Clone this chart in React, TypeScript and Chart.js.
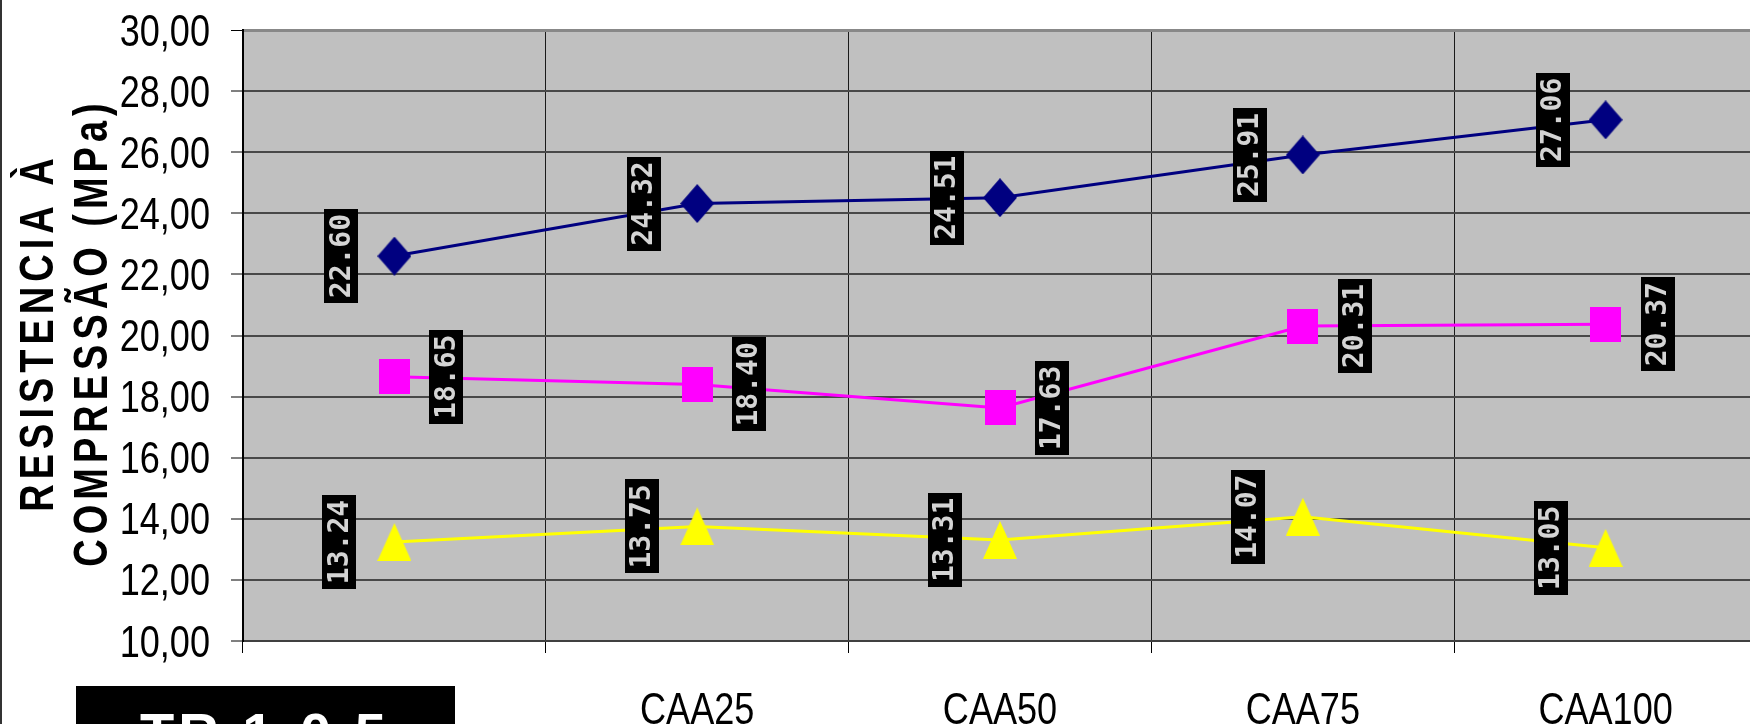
import React, { useEffect, useRef } from 'react';
import { Chart, registerables } from 'chart.js';

Chart.register(...registerables);

// ---- data ----
const categories: string[] = ['', 'CAA25', 'CAA50', 'CAA75', 'CAA100'];
const seriesTopValues: number[] = [22.6, 24.32, 24.51, 25.91, 27.06];
const seriesMidValues: number[] = [18.65, 18.4, 17.63, 20.31, 20.37];
const seriesLowValues: number[] = [13.24, 13.75, 13.31, 14.07, 13.05];
const seriesNames: string[] = ['Série 1', 'Série 2', 'Série 3'];
const yMin = 10;
const yMax = 30;
const yStep = 2;
const yAxisTitleLines: string[] = ['RESISTENCIA À', 'COMPRESSÃO (MPa)'];
const boxCaption = 'TR 1:0,5';

// ---- styles ----
const W = 1772;
const H = 724;
const PLOT_LEFT = 243;
const PLOT_TOP = 30;
const PLOT_BOTTOM = 641;
const labelOffsets = [-53, 52, -55];
const NARROW = 0.82;

const fmtTick = (v: number) => Number(v).toFixed(2).replace('.', ',');

function makeMarker(kind: string, w: number, h: number, color: string) {
  const c = document.createElement('canvas');
  c.width = w;
  c.height = h;
  const ctx = c.getContext('2d')!;
  ctx.fillStyle = color;
  ctx.beginPath();
  if (kind === 'diamond') {
    ctx.moveTo(w / 2, 0);
    ctx.lineTo(w, h / 2);
    ctx.lineTo(w / 2, h);
    ctx.lineTo(0, h / 2);
  } else if (kind === 'square') {
    ctx.rect(0, 0, w, h);
  } else {
    ctx.moveTo(w / 2, 0);
    ctx.lineTo(w, h);
    ctx.lineTo(0, h);
  }
  ctx.closePath();
  ctx.fill();
  return c;
}

function narrowText(ctx: CanvasRenderingContext2D, text: string, x: number, y: number, align: CanvasTextAlign) {
  ctx.save();
  ctx.translate(x, y);
  ctx.scale(NARROW, 1);
  ctx.textAlign = align;
  ctx.textBaseline = 'alphabetic';
  ctx.fillText(text, 0, 0);
  ctx.restore();
}

const decorPlugin = {
  id: 'decor',
  beforeDraw(chart: any) {
    const { ctx, chartArea } = chart;
    ctx.save();
    ctx.fillStyle = '#ffffff';
    ctx.fillRect(0, 0, chart.width, chart.height);
    ctx.fillStyle = '#c0c0c0';
    ctx.fillRect(chartArea.left, chartArea.top, chartArea.right - chartArea.left, chartArea.bottom - chartArea.top);
    ctx.restore();
  },
  afterDraw(chart: any) {
    const { ctx } = chart;
    ctx.save();
    // tick labels (Arial Narrow look), positioned by the chart's own scales
    ctx.fillStyle = '#000000';
    ctx.font = '44px "Liberation Sans", Arial, sans-serif';
    const ys = chart.scales.y;
    ys.ticks.forEach((t: any, i: number) => {
      const y = ys.getPixelForTick(i);
      narrowText(ctx, fmtTick(t.value), 210, y + 15.5, 'right');
    });
    const xs = chart.scales.x;
    xs.ticks.forEach((t: any, i: number) => {
      const x = xs.getPixelForTick(i);
      const lbl = xs.getLabelForValue(t.value);
      narrowText(ctx, String(lbl), x, 723.5, 'center');
    });
    // left border of chart object
    ctx.fillStyle = '#333333';
    ctx.fillRect(0, 0, 2, chart.height);
    // axis title
    ctx.fillStyle = '#000000';
    ctx.font = 'bold 38px "Liberation Sans", Arial, sans-serif';
    (ctx as any).letterSpacing = '5px';
    ctx.textAlign = 'center';
    ctx.textBaseline = 'alphabetic';
    const baseX = [53, 107];
    const midY = (chart.chartArea.top + chart.chartArea.bottom) / 2 - 3;
    yAxisTitleLines.forEach((line, k) => {
      ctx.save();
      ctx.translate(baseX[k], midY);
      ctx.rotate(-Math.PI / 2);
      ctx.scale(1, 1.25);
      ctx.fillText(line, 0, 0);
      ctx.restore();
    });
    // black caption box
    (ctx as any).letterSpacing = '4px';
    ctx.fillStyle = '#000000';
    ctx.fillRect(76, 686, 379, 60);
    ctx.fillStyle = '#ffffff';
    ctx.font = 'bold 56px "Liberation Sans", Arial, sans-serif';
    ctx.textAlign = 'center';
    ctx.fillText(boxCaption, 265, 752);
    ctx.restore();
  },
  afterDatasetsDraw(chart: any) {
    const { ctx } = chart;
    chart.data.datasets.forEach((ds: any, i: number) => {
      const meta = chart.getDatasetMeta(i);
      meta.data.forEach((pt: any, j: number) => {
        const text = Number(ds.data[j]).toFixed(2);
        ctx.save();
        ctx.font = 'bold 28px "DejaVu Sans Mono", monospace';
        const tw = ctx.measureText(text).width;
        const bw = 34;
        const bh = Math.round(tw + 10);
        const cx = pt.x + labelOffsets[i];
        const cy = pt.y;
        ctx.fillStyle = '#000000';
        ctx.fillRect(Math.round(cx - bw / 2), Math.round(cy - bh / 2), bw, bh);
        ctx.translate(cx, cy);
        ctx.rotate(-Math.PI / 2);
        ctx.fillStyle = '#d4d4d4';
        ctx.textAlign = 'center';
        ctx.textBaseline = 'middle';
        ctx.fillText(text, 0, 1);
        ctx.restore();
      });
    });
  },
};

export default function App() {
  const ref = useRef<HTMLCanvasElement>(null);
  useEffect(() => {
    const markers = [
      makeMarker('diamond', 34, 39, '#000080'),
      makeMarker('square', 31, 35, '#ff00ff'),
      makeMarker('triangle', 34, 38, '#ffff00'),
    ];
    const colors = ['#000080', '#ff00ff', '#ffff00'];
    const values = [seriesTopValues, seriesMidValues, seriesLowValues];
    const chart = new Chart(ref.current!, {
      type: 'line',
      data: {
        labels: categories,
        datasets: values.map((v, i) => ({
          label: seriesNames[i],
          data: v,
          borderColor: colors[i],
          backgroundColor: colors[i],
          borderWidth: 3,
          pointStyle: markers[i] as any,
          pointRadius: 12,
          pointHoverRadius: 12,
          tension: 0,
          fill: false,
        })),
      },
      options: {
        responsive: false,
        animation: false,
        devicePixelRatio: 1,
        layout: { padding: { top: PLOT_TOP, left: 0, right: 2, bottom: 0 } },
        plugins: {
          legend: { display: false },
          tooltip: { enabled: false },
          title: { display: false },
        },
        scales: {
          x: {
            type: 'category',
            offset: true,
            grid: {
              offset: true,
              color: '#1a1a1a',
              lineWidth: 1,
              drawTicks: true,
              tickLength: 12,
              tickColor: '#000000',
            },
            border: { display: true, color: '#404040', width: 2 },
            ticks: { display: false, autoSkip: false, maxRotation: 0 },
            afterFit: (s: any) => {
              s.height = H - PLOT_BOTTOM;
            },
          },
          y: {
            min: yMin,
            max: yMax,
            grid: {
              color: (c: any) => (c.tick && c.tick.value === yMax ? '#888888' : c.tick && c.tick.value === yMin ? '#6a6a6a' : '#484848'),
              lineWidth: (c: any) => (c.tick && c.tick.value === yMax ? 3 : 2),
              tickLength: 12,
              tickColor: '#000000',
              tickWidth: 1,
            },
            border: { display: true, color: '#000000', width: 2 },
            ticks: { display: false, stepSize: yStep },
            afterFit: (s: any) => {
              s.width = PLOT_LEFT;
            },
          },
        },
      },
      plugins: [decorPlugin],
    });
    return () => chart.destroy();
  }, []);
  return (
    <div style={{ position: 'fixed', left: 0, top: 0, width: 1750, height: 724, overflow: 'hidden', background: '#fff' }}>
      <div style={{ position: 'absolute', left: 0, top: 0, width: W + 40, height: H }}>
        <canvas ref={ref} width={W} height={H} style={{ display: 'block', width: W, height: H }} />
      </div>
    </div>
  );
}
